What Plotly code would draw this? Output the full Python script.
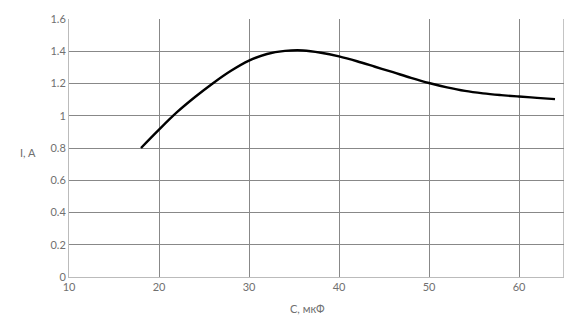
import plotly.graph_objects as go

C_uF = [18, 20, 22, 24, 26, 28, 30, 32, 34, 36, 38, 40, 42, 44, 46, 48, 50, 52, 54, 56, 58, 60, 62, 64]
I_A = [0.80, 0.914, 1.022, 1.116, 1.202, 1.279, 1.342, 1.383, 1.402, 1.405, 1.391, 1.368, 1.338, 1.304,
       1.270, 1.235, 1.203, 1.176, 1.154, 1.139, 1.128, 1.119, 1.111, 1.103]
x_ticks = [10, 20, 30, 40, 50, 60]
y_ticks = [0, 0.2, 0.4, 0.6, 0.8, 1, 1.2, 1.4, 1.6]
y_tick_labels = ["0", "0.2", "0.4", "0.6", "0.8", "1", "1.2", "1.4", "1.6"]

fig = go.Figure(go.Scatter(x=C_uF, y=I_A, mode="lines",
                           line=dict(color="black", width=2.4, shape="spline", smoothing=1.0),
                           hoverinfo="skip", showlegend=False))

font = dict(family="Lato", size=11, color="#707070")
fig.update_layout(
    width=576, height=336,
    margin=dict(l=69, r=12, t=14, b=59),
    paper_bgcolor="white", plot_bgcolor="white",
    font=font,
    xaxis=dict(range=[10, 65], tickvals=x_ticks, showgrid=True, gridcolor="#888888", gridwidth=1,
               zeroline=False, showline=True, linecolor="#bbbbbb", linewidth=1, mirror=False,
               ticks="", ticklen=0, tickfont=font, fixedrange=True),
    yaxis=dict(range=[0, 1.6], tickvals=y_ticks, ticktext=y_tick_labels, showgrid=True,
               gridcolor="#888888", gridwidth=1, zeroline=False, showline=True, linecolor="#bbbbbb",
               linewidth=1, ticks="", ticklen=0, tickfont=font, fixedrange=True),
    shapes=[dict(type="line", xref="x", yref="paper", x0=65, x1=65, y0=0, y1=1,
                 line=dict(color="#888888", width=1))],
    annotations=[
        dict(text="C, мкФ", xref="paper", yref="paper", x=(307.5 - 69) / 495, y=-(309 - 277.3) / 263.6,
             xanchor="center", yanchor="middle", showarrow=False, font=font),
        dict(text="I, A", xref="paper", yref="paper", x=-(69 - 28) / 495, y=(277.3 - 150) / 263.6,
             xanchor="center", yanchor="middle", showarrow=False, font=font),
    ],
)
fig.write_html("out.html")
